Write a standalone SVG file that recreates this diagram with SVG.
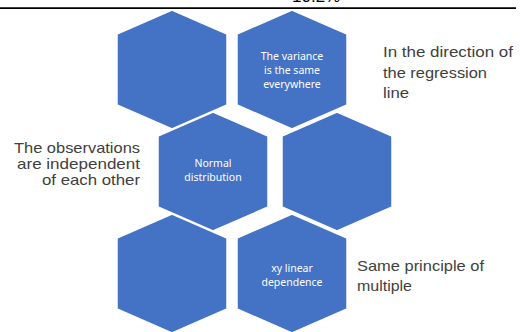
<svg xmlns="http://www.w3.org/2000/svg" xmlns:xlink="http://www.w3.org/1999/xlink" width="520" height="332" viewBox="0 0 520 332">
<style>
.hex{fill:#4472C4;stroke:#FFFFFF;stroke-width:1.5}
.in{font-family:"Noto Sans","Liberation Sans",sans-serif;font-size:10.5px;fill:#FFFFFF;text-anchor:middle}
.out{font-family:"Liberation Sans",Arial,sans-serif;font-size:14.5px;fill:#404040}
.outl{font-family:"Liberation Sans",Arial,sans-serif;font-size:14.2px;fill:#404040;text-anchor:end}
</style>
<defs>
<polygon id="hexshape" points="0,-59.5 55,-35.5 55,35.5 0,59.5 -55,35.5 -55,-35.5"/>
</defs>
<rect width="520" height="332" fill="#FFFFFF"/>
<text x="292" y="2" font-family="Liberation Sans, sans-serif" font-size="17" fill="#000">10.2%</text>
<line x1="0" y1="8.2" x2="516" y2="8.2" stroke="#000" stroke-width="1.8"/>
<g id="hex1"><use xlink:href="#hexshape" class="hex" x="172" y="69.5"/></g>
<g id="hex2"><use xlink:href="#hexshape" class="hex" x="292" y="69.5"/>
<text class="in" x="292" y="60">The variance</text>
<text class="in" x="292" y="74">is the same</text>
<text class="in" x="292" y="88">everywhere</text></g>
<g id="hex3"><use xlink:href="#hexshape" class="hex" x="213" y="171.5"/>
<text class="in" x="213" y="167">Normal</text>
<text class="in" x="213" y="181">distribution</text></g>
<g id="hex4"><use xlink:href="#hexshape" class="hex" x="337" y="171.5"/></g>
<g id="hex5"><use xlink:href="#hexshape" class="hex" x="172" y="273.5"/></g>
<g id="hex6"><use xlink:href="#hexshape" class="hex" x="292" y="273.5"/>
<text class="in" x="292" y="272">xy linear</text>
<text class="in" x="292" y="286">dependence</text></g>
<g id="label-left">
<text class="outl" x="140" y="152.5" textLength="126" lengthAdjust="spacingAndGlyphs">The observations</text>
<text class="outl" x="140" y="168.5" textLength="123" lengthAdjust="spacingAndGlyphs">are independent</text>
<text class="outl" x="140" y="184.5" textLength="98" lengthAdjust="spacingAndGlyphs">of each other</text></g>
<g id="label-topright">
<text class="out" x="383" y="57" textLength="130" lengthAdjust="spacingAndGlyphs">In the direction of</text>
<text class="out" x="383" y="77.5" textLength="104" lengthAdjust="spacingAndGlyphs">the regression</text>
<text class="out" x="383" y="98" textLength="26" lengthAdjust="spacingAndGlyphs">line</text></g>
<g id="label-bottomright">
<text class="out" x="357" y="270.5" textLength="127" lengthAdjust="spacingAndGlyphs">Same principle of</text>
<text class="out" x="357" y="290.5" textLength="55" lengthAdjust="spacingAndGlyphs">multiple</text></g>
<g id="connectors"/>
</svg>
